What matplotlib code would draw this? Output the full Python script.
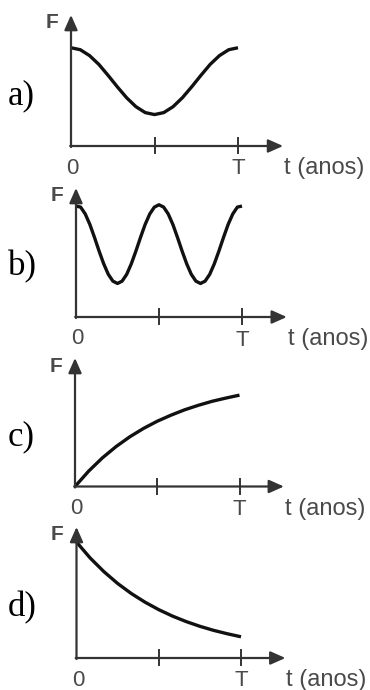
import numpy as np
import matplotlib
matplotlib.use("Agg")
import matplotlib.pyplot as plt

# valores (t em unidades de T, F em unidades do eixo)
t_a = np.linspace(0, 1, 19)
F_a = [0.750, 0.735, 0.690, 0.623, 0.539, 0.451, 0.368, 0.300, 0.255, 0.240,
       0.255, 0.300, 0.368, 0.451, 0.539, 0.623, 0.690, 0.735, 0.750]

t_b = np.linspace(0, 1, 37)
F_b = [0.860, 0.852, 0.799, 0.718, 0.618, 0.512, 0.413, 0.331, 0.278, 0.260,
       0.278, 0.331, 0.413, 0.512, 0.618, 0.718, 0.799, 0.852, 0.870,
       0.852, 0.799, 0.718, 0.618, 0.512, 0.413, 0.331, 0.278, 0.260,
       0.278, 0.331, 0.413, 0.512, 0.618, 0.718, 0.799, 0.852, 0.860]

t_c = np.linspace(0, 1, 13)
F_c = [0.0, 0.120, 0.223, 0.311, 0.387, 0.452, 0.508, 0.555, 0.597, 0.632,
       0.663, 0.688, 0.711]

t_d = np.linspace(0, 1, 13)
F_d = [0.885, 0.763, 0.659, 0.569, 0.492, 0.426, 0.369, 0.320, 0.278, 0.242,
       0.211, 0.185, 0.162]

letras = ["a)", "b)", "c)", "d)"]
ticks = [0.5, 1.0]

# posição de cada painel em pixels: origem x, origem y, x de T, topo da seta
paineis = [(71, 146, 238, 15), (76, 317, 242, 188),
           (75, 486.5, 239.5, 358), (76.5, 658, 241, 527)]
series = [(t_a, F_a), (t_b, F_b), (t_c, F_c), (t_d, F_d)]

W, H = 370, 690
fig = plt.figure(figsize=(W / 100, H / 100), dpi=100)

eixo_cor = "#333333"
texto_cor = "#4a4a4a"

for (ox, oy, tx, top), (t, F), letra in zip(paineis, series, letras):
    w = tx - ox
    h = oy - top
    ax = fig.add_axes([ox / W, (H - oy) / H, w / W, h / H])
    ax.set_xlim(0, 1)
    ax.set_ylim(0, 1)
    ax.axis("off")

    seta = dict(arrowstyle="-|>,head_length=0.45,head_width=0.2",
                lw=1.6, color=eixo_cor, shrinkA=0, shrinkB=0,
                mutation_scale=20)
    ax.annotate("", xy=(0, 1), xytext=(0, -0.008), arrowprops=seta,
                annotation_clip=False)
    ax.annotate("", xy=(1.27, 0), xytext=(-0.005, 0), arrowprops=seta,
                annotation_clip=False)

    for tk in ticks:
        ax.plot([tk, tk], [-0.055, 0.06], color=eixo_cor, lw=1.4,
                clip_on=False)

    ax.plot(t, F, color="#111111", lw=2.4, solid_capstyle="butt",
            solid_joinstyle="round", clip_on=False)

    ax.text(-19 / w, 1 - 8 / h, "F", fontsize=15, color=texto_cor,
            family="Liberation Sans", ha="center", va="center",
            fontweight="bold")
    ax.text(0.01, -22 / h, "0", fontsize=16, color=texto_cor,
            family="Liberation Sans", ha="center", va="center")
    ax.text(1.0, -23 / h, "T", fontsize=16, color=texto_cor,
            family="Liberation Sans", ha="center", va="center")
    ax.text(1.27 + 1 / w, -22 / h, "t (anos)", fontsize=17,
            color=texto_cor, family="Liberation Sans", ha="left",
            va="center")
    ax.text((8 - ox) / w, 50 / h, letra, fontsize=25, color="black",
            family="Liberation Serif", ha="left", va="center")

fig.savefig("out.png", dpi=100)
